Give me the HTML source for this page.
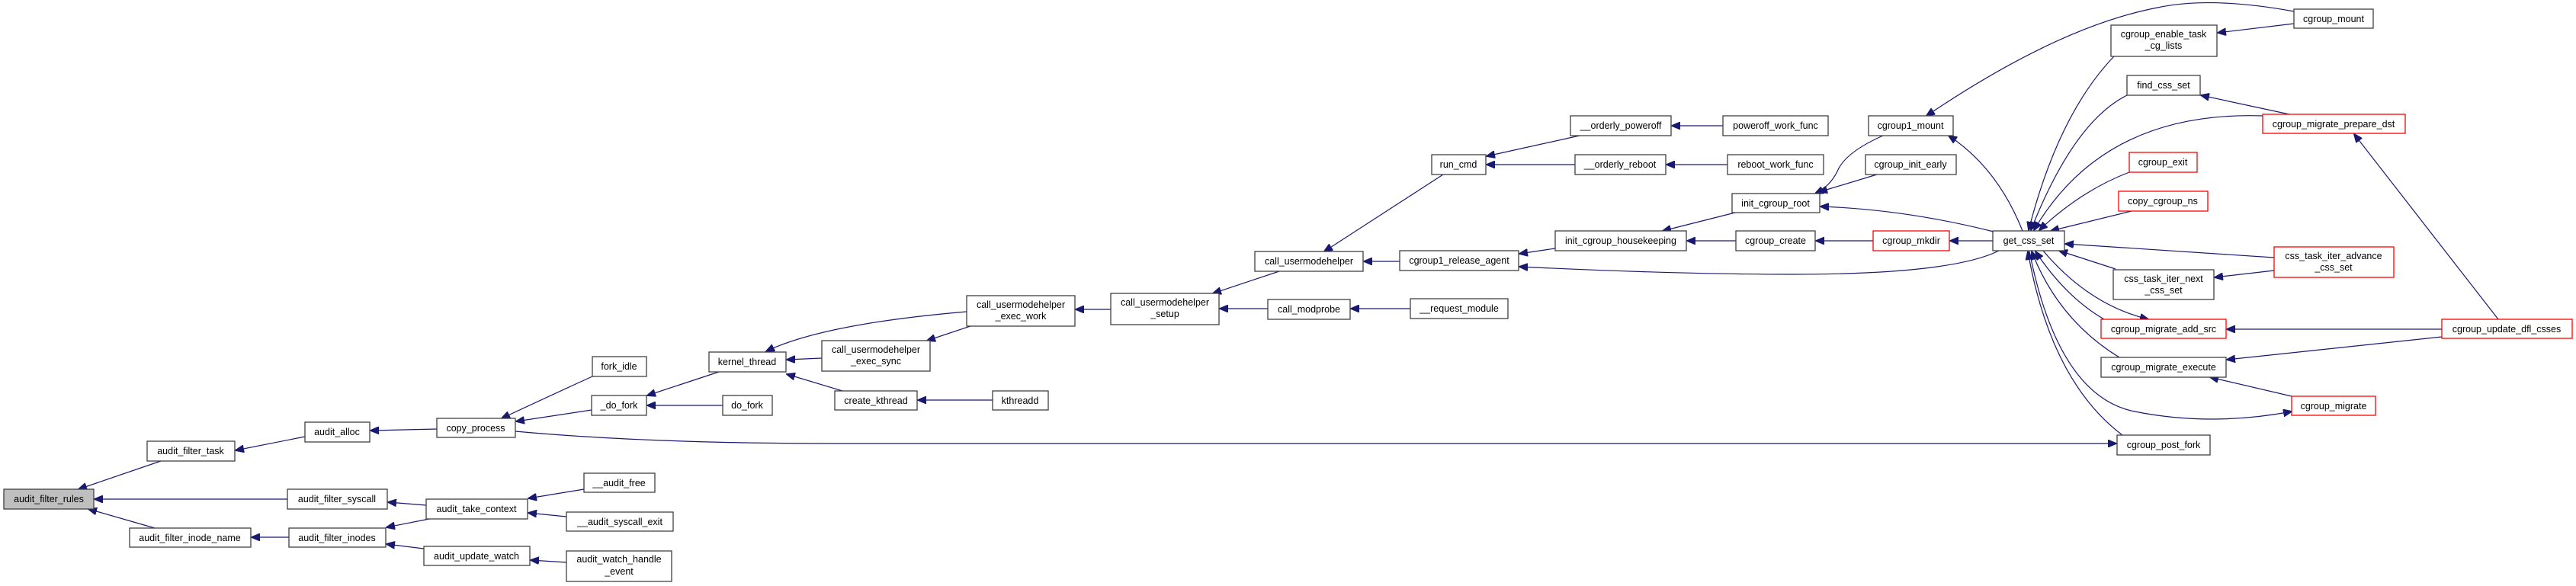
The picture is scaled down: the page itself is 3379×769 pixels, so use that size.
<!DOCTYPE html>
<html><head><meta charset="utf-8"><style>
html,body{margin:0;padding:0;background:#fff;}
svg{display:block;}
text{font-family:"Liberation Sans",Arial,sans-serif;font-size:12.5px;fill:#000;text-anchor:middle;}
.b{fill:#fff;stroke:#404040;stroke-width:1.3;}
.r{fill:#fff;stroke:#ff0000;stroke-width:1.3;}
.g{fill:#bfbfbf;stroke:#404040;stroke-width:1.3;}
.e{fill:none;stroke:#191970;stroke-width:1.2;marker-end:url(#a);}
</style></head><body>
<svg width="3379" height="769" viewBox="0 0 3379 769" xmlns="http://www.w3.org/2000/svg">
<defs><marker id="a" markerWidth="12" markerHeight="10" refX="11" refY="5" orient="auto" markerUnits="userSpaceOnUse"><path d="M0,0 L12,5 L0,10 z" fill="#191970" stroke="#191970"/></marker></defs>

<!-- edges -->
<path class="e" d="M211,605 L103,642"/>
<path class="e" d="M377,655 L124,655"/>
<path class="e" d="M203,693 L116,668"/>
<path class="e" d="M400,573 L309,591"/>
<path class="e" d="M573,563 L486,565"/>
<path class="e" d="M559,663 L509,659"/>
<path class="e" d="M563,681 L507,692"/>
<path class="e" d="M379,705 L330,705"/>
<path class="e" d="M766,642 L693,654"/>
<path class="e" d="M743,678 L693,673"/>
<path class="e" d="M556,720 L507,714"/>
<path class="e" d="M743,738 L696,735"/>
<path class="e" d="M777,494 Q720,520 658,549"/>
<path class="e" d="M776,538 L677,553"/>
<path class="e" d="M676,566 Q850,582 1100,582 L2776,582"/>
<path class="e" d="M943,488 L849,519"/>
<path class="e" d="M948,532 L849,532"/>
<path class="e" d="M1268,409 Q1080,425 1005,461"/>
<path class="e" d="M1078,470 L1032,472"/>
<path class="e" d="M1105,513 L1032,491"/>
<path class="e" d="M1302,525 L1204,525"/>
<path class="e" d="M1273,428 L1216,447"/>
<path class="e" d="M1457,406 L1411,406"/>
<path class="e" d="M1678,356 L1591,385"/>
<path class="e" d="M1663,405 L1600,405"/>
<path class="e" d="M1850,405 L1772,405"/>
<path class="e" d="M1893,229 L1737,330"/>
<path class="e" d="M1836,343 L1789,343"/>
<path class="e" d="M2072,178 L1950,205"/>
<path class="e" d="M2066,216 L1950,216"/>
<path class="e" d="M2260,165 L2193,165"/>
<path class="e" d="M2266,216 L2186,216"/>
<path class="e" d="M2040,326 L1993,333"/>
<path class="e" d="M2622,329 Q2560,360 2350,360 Q2200,360 1993,350"/>
<path class="e" d="M2276,279 L2181,303"/>
<path class="e" d="M2277,316 L2213,316"/>
<path class="e" d="M2457,316 L2382,316"/>
<path class="e" d="M2614,316 L2558,316"/>
<path class="e" d="M2470,178 Q2420,200 2410,225 Q2400,245 2381,254"/>
<path class="e" d="M2462,229 L2386,252"/>
<path class="e" d="M2615,304 Q2500,275 2388,271"/>
<path class="e" d="M2653,303 Q2620,220 2556,178"/>
<path class="e" d="M3009,15 Q2900,-5 2830,10 Q2700,35 2527,152"/>
<path class="e" d="M3009,31 L2909,43"/>
<path class="e" d="M2773,74 Q2700,150 2661,302"/>
<path class="e" d="M2790,125 Q2720,160 2664,302"/>
<path class="e" d="M3003,150 L2887,125"/>
<path class="e" d="M2968,152 Q2760,145 2668,302"/>
<path class="e" d="M2793,226 Q2730,250 2675,302"/>
<path class="e" d="M2796,277 L2690,303"/>
<path class="e" d="M2983,338 L2709,320"/>
<path class="e" d="M2983,355 L2905,364"/>
<path class="e" d="M2775,353 L2701,329"/>
<path class="e" d="M2680,329 Q2740,400 2818,419"/>
<path class="e" d="M2760,419 Q2710,390 2670,330"/>
<path class="e" d="M3203,432 L2921,432"/>
<path class="e" d="M3203,442 L2921,472"/>
<path class="e" d="M3277,419 L3088,176"/>
<path class="e" d="M2780,469 Q2700,420 2665,330"/>
<path class="e" d="M3006,520 L2899,495"/>
<path class="e" d="M2662,330 Q2700,520 2800,540 Q2900,560 3006,540"/>
<path class="e" d="M2784,571 Q2690,500 2660,330"/>

<!-- nodes -->
<rect class="g" x="5" y="642" width="118" height="26"/><text x="64" y="659">audit_filter_rules</text>
<rect class="b" x="193" y="579" width="115" height="26"/><text x="250" y="596">audit_filter_task</text>
<rect class="b" x="400" y="554" width="85" height="26"/><text x="442" y="571">audit_alloc</text>
<rect class="b" x="573" y="549" width="103" height="25"/><text x="624" y="566">copy_process</text>
<rect class="b" x="777" y="468" width="71" height="26"/><text x="812" y="485">fork_idle</text>
<rect class="b" x="776" y="519" width="72" height="26"/><text x="812" y="536">_do_fork</text>
<rect class="b" x="377" y="642" width="131" height="26"/><text x="442" y="659">audit_filter_syscall</text>
<rect class="b" x="559" y="655" width="133" height="26"/><text x="625" y="672">audit_take_context</text>
<rect class="b" x="766" y="621" width="93" height="25"/><text x="812" y="638">__audit_free</text>
<rect class="b" x="743" y="672" width="140" height="25"/><text x="813" y="689">__audit_syscall_exit</text>
<rect class="b" x="170" y="693" width="159" height="25"/><text x="249" y="710">audit_filter_inode_name</text>
<rect class="b" x="379" y="693" width="127" height="25"/><text x="442" y="710">audit_filter_inodes</text>
<rect class="b" x="556" y="717" width="139" height="25"/><text x="625" y="734">audit_update_watch</text>
<rect class="b" x="743" y="723" width="138" height="40"/><text x="812" y="738">audit_watch_handle</text><text x="812" y="754">_event</text>

<rect class="b" x="930" y="462" width="101" height="26"/><text x="980" y="479">kernel_thread</text>
<rect class="b" x="948" y="519" width="65" height="26"/><text x="980" y="536">do_fork</text>
<rect class="b" x="1078" y="447" width="142" height="40"/><text x="1149" y="463">call_usermodehelper</text><text x="1149" y="478">_exec_sync</text>
<rect class="b" x="1095" y="513" width="108" height="25"/><text x="1149" y="530">create_kthread</text>
<rect class="b" x="1302" y="513" width="73" height="25"/><text x="1338" y="530">kthreadd</text>
<rect class="b" x="1268" y="388" width="142" height="40"/><text x="1339" y="404">call_usermodehelper</text><text x="1339" y="419">_exec_work</text>
<rect class="b" x="1457" y="385" width="142" height="41"/><text x="1528" y="401">call_usermodehelper</text><text x="1528" y="416">_setup</text>
<rect class="b" x="1646" y="330" width="142" height="26"/><text x="1717" y="347">call_usermodehelper</text>
<rect class="b" x="1663" y="393" width="108" height="26"/><text x="1717" y="410">call_modprobe</text>
<rect class="b" x="1850" y="392" width="128" height="26"/><text x="1914" y="409">__request_module</text>
<rect class="b" x="1878" y="203" width="71" height="26"/><text x="1913" y="220">run_cmd</text>
<rect class="b" x="1836" y="329" width="156" height="26"/><text x="1914" y="346">cgroup1_release_agent</text>
<rect class="b" x="2060" y="152" width="132" height="26"/><text x="2126" y="169">__orderly_poweroff</text>
<rect class="b" x="2066" y="203" width="119" height="26"/><text x="2125" y="220">__orderly_reboot</text>
<rect class="b" x="2260" y="152" width="138" height="26"/><text x="2329" y="169">poweroff_work_func</text>
<rect class="b" x="2266" y="203" width="126" height="26"/><text x="2329" y="220">reboot_work_func</text>
<rect class="b" x="2040" y="303" width="172" height="26"/><text x="2126" y="320">init_cgroup_housekeeping</text>
<rect class="b" x="2272" y="254" width="115" height="25"/><text x="2329" y="271">init_cgroup_root</text>
<rect class="b" x="2277" y="303" width="104" height="26"/><text x="2329" y="320">cgroup_create</text>
<rect class="r" x="2457" y="303" width="100" height="26"/><text x="2507" y="320">cgroup_mkdir</text>
<rect class="b" x="2447" y="203" width="119" height="26"/><text x="2506" y="220">cgroup_init_early</text>
<rect class="b" x="2451" y="152" width="111" height="26"/><text x="2506" y="169">cgroup1_mount</text>
<rect class="b" x="2614" y="303" width="94" height="26"/><text x="2661" y="320">get_css_set</text>
<rect class="b" x="3009" y="12" width="104" height="25"/><text x="3061" y="29">cgroup_mount</text>
<rect class="b" x="2769" y="33" width="139" height="41"/><text x="2838" y="49">cgroup_enable_task</text><text x="2838" y="64">_cg_lists</text>
<rect class="b" x="2790" y="99" width="96" height="26"/><text x="2838" y="116">find_css_set</text>
<rect class="r" x="2968" y="150" width="187" height="25"/><text x="3061" y="167">cgroup_migrate_prepare_dst</text>
<rect class="r" x="2793" y="200" width="89" height="26"/><text x="2837" y="217">cgroup_exit</text>
<rect class="r" x="2779" y="251" width="117" height="26"/><text x="2837" y="268">copy_cgroup_ns</text>
<rect class="r" x="2983" y="324" width="157" height="40"/><text x="3061" y="340">css_task_iter_advance</text><text x="3061" y="355">_css_set</text>
<rect class="b" x="2772" y="354" width="132" height="39"/><text x="2838" y="370">css_task_iter_next</text><text x="2838" y="385">_css_set</text>
<rect class="r" x="2756" y="419" width="164" height="25"/><text x="2838" y="436">cgroup_migrate_add_src</text>
<rect class="r" x="3203" y="419" width="171" height="25"/><text x="3288" y="436">cgroup_update_dfl_csses</text>
<rect class="b" x="2756" y="469" width="164" height="26"/><text x="2838" y="486">cgroup_migrate_execute</text>
<rect class="r" x="3006" y="520" width="110" height="25"/><text x="3061" y="537">cgroup_migrate</text>
<rect class="b" x="2777" y="571" width="122" height="26"/><text x="2838" y="588">cgroup_post_fork</text>
</svg>
</body></html>
